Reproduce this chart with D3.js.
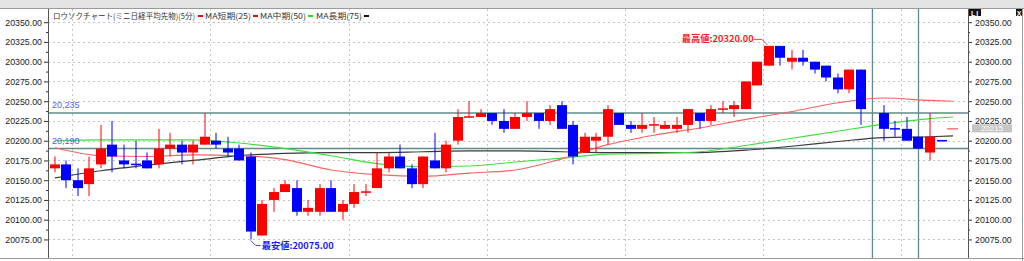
<!DOCTYPE html>
<html>
<head>
<meta charset="utf-8">
<script src="https://cdnjs.cloudflare.com/ajax/libs/d3/7.8.5/d3.min.js"></script>
<style>
body{margin:0;background:#fff;}
svg{display:block;}
</style>
</head>
<body>
<svg id="chart" width="1024" height="261"></svg>
<script>
// 5 min candles, index 71 is an empty slot
var opens  = [20165,20170,20150,20145,20170,20195,20175,20170,20175,20170,
              20190,20195,20185,20195,20200,20190,20190,20180,20080,20125,
              20135,20140,20110,20110,20140,20110,20120,20135,20140,20165,
              20180,20165,20145,20175,20165,20200,20230,20230,20235,20225,
              20215,20230,20235,20225,20245,20220,20185,20200,20205,20235,
              20220,20215,20220,20215,20215,20220,20235,20225,20240,20240,
              20240,20270,20295,20320,20300,20305,20300,20295,20280,20265,
              20290,null,20235,20215,20215,20205,20185,20200];
var highs  = [20180,20175,20165,20180,20220,20225,20195,20200,20185,20215,
              20210,20200,20200,20235,20210,20205,20195,20185,20125,20140,
              20150,20150,20125,20145,20150,20125,20145,20145,20185,20185,
              20195,20170,20180,20210,20200,20240,20250,20240,20235,20240,
              20235,20250,20235,20245,20250,20225,20210,20210,20245,20235,
              20225,20235,20230,20225,20230,20240,20235,20245,20250,20250,
              20275,20300,20320,20320,20315,20315,20300,20295,20285,20290,
              20290,null,20245,20225,20230,20205,20235,20200];
var lows   = [20160,20140,20130,20130,20165,20160,20165,20165,20165,20165,
              20180,20170,20170,20195,20190,20180,20175,20075,20080,20110,
              20135,20105,20105,20105,20110,20100,20115,20130,20140,20160,
              20165,20140,20140,20165,20160,20195,20230,20230,20220,20210,
              20215,20225,20215,20220,20215,20170,20185,20185,20195,20220,
              20210,20210,20210,20215,20210,20210,20215,20220,20235,20230,
              20240,20270,20295,20295,20290,20295,20285,20275,20260,20260,
              20220,null,20200,20205,20200,20190,20175,20200];
var closes = [20170,20150,20140,20165,20190,20180,20170,20170,20165,20190,
              20195,20185,20195,20205,20195,20185,20175,20085,20120,20135,
              20145,20110,20115,20140,20110,20120,20135,20135,20165,20180,
              20165,20145,20180,20165,20195,20230,20230,20235,20225,20215,
              20230,20235,20225,20240,20215,20180,20205,20205,20240,20220,
              20215,20220,20220,20220,20220,20240,20225,20240,20240,20245,
              20275,20300,20320,20305,20305,20300,20290,20280,20265,20290,
              20240,null,20215,20215,20200,20190,20205,20200];
// doji bars (open == close) that are drawn red
var dojiUp = [27, 36, 52, 58];

// moving averages, read at these bar indexes
var maIdx   = [0,4,8,12,16,20,24,28,32,36,40,44,48,52,56,60,64,68,72,76,78];
var maShort = [20191,20181,20180,20182,20181,20176,20163,20157,20155,20159,20163,20177,20195,20207,20216,20227,20237,20248,20254,20251,20250];
var maMid   = [20200,20201,20201,20201,20197,20190,20181,20171,20167,20168,20173,20178,20183,20184,20186,20194,20203,20212,20221,20228,20230];
var maLong  = [20153,20162,20169,20175,20181,20184,20185,20185,20186,20187,20187,20186,20185,20185,20185,20188,20193,20199,20204,20205,20206];

var yTicks = [20075,20100,20125,20150,20175,20200,20225,20250,20275,20300,20325,20350];
var yMinor = [20087.5,20112.5,20137.5,20162.5,20187.5,20212.5,20237.5,20262.5,20287.5,20312.5,20337.5];
var gridBars = [1.5,13.5,25.5,37.5,49.5,61.5,73.5];
var priceLines = [20235, 20190];
var priceLineLabels = ["20,235", "20,190"];
var markBars = [71, 75];
var lowBar = 17, lowValue = 20075, lowText = "最安値:20075.00";
var highBar = 62, highValue = 20320, highText = "最高値:20320.00";
var lastPrice = 20215;

var titleText = "ロウソクチャート(ミニ日経平均先物)(5分)";
var legendNames = ["MA短期(25)", "MA中期(50)", "MA長期(75)"];
var legendColors = ["#ff0000", "#ff0000", "#22dd22", "#111111"];

var svg = d3.select("#chart"),
    pLeft = 48, pRight = 968, pTop = 9, pBottom = 258;

var x = d3.scaleLinear().domain([-0.6, 79.3]).range([pLeft, pRight]);
var y = d3.scaleLinear().domain([20075, 20350]).range([239.45, 22.2]);

var up = "#ff0000", down = "#0000ff";

// top strip and frame
svg.append("rect").attr("x", 0).attr("y", 0).attr("width", 1024).attr("height", 8).attr("fill", "#e4e4e4");
svg.append("line").attr("x1", 0).attr("x2", 1024).attr("y1", 8.5).attr("y2", 8.5).attr("stroke", "#9a9a9a");
svg.append("line").attr("x1", 0).attr("x2", 1024).attr("y1", pBottom + 0.5).attr("y2", pBottom + 0.5).attr("stroke", "#9a9a9a");
svg.append("line").attr("x1", 1022.5).attr("x2", 1022.5).attr("y1", 9).attr("y2", 261).attr("stroke", "#9a9a9a");

svg.append("defs").append("clipPath").attr("id", "plotclip")
  .append("rect").attr("x", pLeft).attr("y", pTop).attr("width", pRight - pLeft).attr("height", pBottom - pTop);

var g = svg.append("g").attr("clip-path", "url(#plotclip)");

// dashed grid
g.selectAll(".hgrid")
  .data(yTicks)
  .enter().append("line")
    .attr("x1", pLeft).attr("x2", pRight)
    .attr("y1", function(d){ return Math.round(y(d)) + 0.5; })
    .attr("y2", function(d){ return Math.round(y(d)) + 0.5; })
    .attr("stroke", "#c4c4c4")
    .attr("stroke-dasharray", "2,3");

g.selectAll(".vgrid")
  .data(gridBars)
  .enter().append("line")
    .attr("x1", function(d){ return Math.round(x(d)) + 0.5; })
    .attr("x2", function(d){ return Math.round(x(d)) + 0.5; })
    .attr("y1", pTop).attr("y2", pBottom)
    .attr("stroke", "#c4c4c4")
    .attr("stroke-dasharray", "2,3");

// marker lines (teal)
g.selectAll(".pline")
  .data(priceLines)
  .enter().append("line")
    .attr("x1", pLeft).attr("x2", pRight)
    .attr("y1", function(d){ return y(d); })
    .attr("y2", function(d){ return y(d); })
    .attr("stroke", "#5e8a8a")
    .attr("stroke-width", 1.5);

g.selectAll(".vmark")
  .data(markBars)
  .enter().append("line")
    .attr("x1", function(d){ return x(d); })
    .attr("x2", function(d){ return x(d); })
    .attr("y1", pTop).attr("y2", pBottom)
    .attr("stroke", "#5e8a8a")
    .attr("stroke-width", 1.3);

// moving averages
function maLine(vals, color, w){
  var pts = maIdx.map(function(d, i){ return [d, vals[i]]; });
  g.append("path")
    .attr("d", d3.line()
      .x(function(d){ return x(d[0]); })
      .y(function(d){ return y(d[1]); })
      .curve(d3.curveMonotoneX)(pts))
    .attr("fill", "none")
    .attr("stroke", color)
    .attr("stroke-width", w);
}
maLine(maLong, "#3a3a3a", 1.2);
maLine(maMid, "#3ce03c", 1.1);
maLine(maShort, "#ff6060", 1.1);

// candles
var bars = [];
for (var i = 0; i < opens.length; i++){
  if (opens[i] == null) continue;
  var isUp = closes[i] > opens[i] || (closes[i] == opens[i] && dojiUp.indexOf(i) != -1);
  bars.push({i: i, o: opens[i], h: highs[i], l: lows[i], c: closes[i], up: isUp});
}

g.selectAll(".wick")
  .data(bars)
  .enter().append("line")
    .attr("x1", function(d){ return Math.round(x(d.i)); })
    .attr("x2", function(d){ return Math.round(x(d.i)); })
    .attr("y1", function(d){ return y(d.h); })
    .attr("y2", function(d){ return y(d.l); })
    .attr("stroke", function(d){ return d.up ? up : down; })
    .attr("stroke-width", 1);

g.selectAll(".body")
  .data(bars)
  .enter().append("rect")
    .attr("x", function(d){ return Math.round(x(d.i)) - 5; })
    .attr("width", 10)
    .attr("y", function(d){ return y(Math.max(d.o, d.c)) - (d.o == d.c ? 0.75 : 0); })
    .attr("height", function(d){ return Math.max(1.5, Math.abs(y(d.o) - y(d.c))); })
    .attr("fill", function(d){ return d.up ? up : down; });

// last price tick
g.append("line")
  .attr("x1", x(77) + 5.5).attr("x2", x(77) + 16.5)
  .attr("y1", y(lastPrice)).attr("y2", y(lastPrice))
  .attr("stroke", "#ff5050").attr("stroke-width", 1.2);

// price line labels
g.selectAll(".plabel")
  .data(priceLines)
  .enter().append("text")
    .attr("x", pLeft + 4)
    .attr("y", function(d){ return y(d) - 5; })
    .attr("font-family", "Liberation Sans, Arial, sans-serif")
    .attr("font-size", "9px")
    .attr("fill", "#5a5aff")
    .text(function(d, i){ return priceLineLabels[i]; });

// low / high annotations
var lx = x(lowBar), ly = y(lowValue);
g.append("path")
  .attr("d", "M" + lx + "," + (ly + 1) + " L" + (lx + 5) + "," + (ly + 6) + " L" + (lx + 10) + "," + (ly + 6))
  .attr("fill", "none").attr("stroke", "#2a2aff").attr("stroke-width", 0.9);
g.append("text")
  .attr("x", lx + 11).attr("y", ly + 9.5)
  .attr("font-family", "Noto Sans CJK JP, sans-serif")
  .attr("font-size", "9px").attr("font-weight", "bold")
  .attr("textLength", 72).attr("lengthAdjust", "spacingAndGlyphs")
  .attr("fill", "#1a1aff")
  .text(lowText);

var hx = x(highBar), hy = y(highValue);
g.append("path")
  .attr("d", "M" + (hx - 15) + "," + (hy - 6.5) + " L" + (hx - 7) + "," + (hy - 6.5) + " L" + (hx - 1.5) + "," + (hy - 1))
  .attr("fill", "none").attr("stroke", "#ff2a2a").attr("stroke-width", 0.9);
g.append("text")
  .attr("x", hx - 87).attr("y", hy - 3.5)
  .attr("font-family", "Noto Sans CJK JP, sans-serif")
  .attr("font-size", "9px").attr("font-weight", "bold")
  .attr("textLength", 72).attr("lengthAdjust", "spacingAndGlyphs")
  .attr("fill", "#ff1a1a")
  .text(highText);

// header legend
var hdrFont = "Noto Sans CJK JP, sans-serif";
var hdr = svg.append("g").attr("font-family", hdrFont).attr("font-size", "8px").attr("fill", "#333");
hdr.append("text").attr("x", 53).attr("y", 18.5).attr("textLength", 142).attr("lengthAdjust", "spacingAndGlyphs").text(titleText);
var nameX = [205, 260, 316];
var dashX = [198, 253, 308, 364];
legendNames.forEach(function(n, i){
  hdr.append("text").attr("x", nameX[i]).attr("y", 18.5).attr("textLength", 46).attr("lengthAdjust", "spacingAndGlyphs").text(n);
});
legendColors.forEach(function(c, i){
  svg.append("rect").attr("x", dashX[i]).attr("y", 15).attr("width", 5).attr("height", 2).attr("fill", c);
});

// axes
function styleAxis(sel){
  sel.select(".domain").remove();
  sel.selectAll("line").attr("stroke", "#333");
  sel.selectAll("text")
    .attr("font-family", "Liberation Sans, Arial, sans-serif")
    .attr("font-size", "8.8px")
    .attr("fill", "#222");
}
var fmt = d3.format(".2f");

svg.append("g").attr("transform", "translate(" + pLeft + ",0)")
  .call(d3.axisLeft(y).tickValues(yTicks).tickSize(4).tickPadding(2).tickFormat(fmt))
  .call(styleAxis);
svg.append("g").attr("transform", "translate(" + pLeft + ",0)")
  .call(d3.axisLeft(y).tickValues(yMinor).tickSize(2).tickFormat(""))
  .call(styleAxis);
svg.append("g").attr("transform", "translate(" + pRight + ",0)")
  .call(d3.axisRight(y).tickValues(yTicks).tickSize(4).tickPadding(3).tickFormat(fmt))
  .call(styleAxis);
svg.append("g").attr("transform", "translate(" + pRight + ",0)")
  .call(d3.axisRight(y).tickValues(yMinor).tickSize(2).tickFormat(""))
  .call(styleAxis);

svg.append("line").attr("x1", pLeft + 0.5).attr("x2", pLeft + 0.5).attr("y1", pTop).attr("y2", pBottom).attr("stroke", "#555");
svg.append("line").attr("x1", pRight + 0.5).attr("x2", pRight + 0.5).attr("y1", pTop).attr("y2", pBottom).attr("stroke", "#555");

// last price box on right axis
svg.append("rect").attr("x", 972).attr("y", y(lastPrice) - 4.5).attr("width", 40).attr("height", 8).attr("fill", "#c4c4c4");
svg.append("text").attr("x", 992).attr("y", y(lastPrice) + 2.5)
  .attr("text-anchor", "middle")
  .attr("font-family", "Liberation Sans, Arial, sans-serif")
  .attr("font-size", "8px").attr("fill", "#fff")
  .text(lastPrice);

// window buttons
svg.append("rect").attr("x", 969).attr("y", 9).attr("width", 12).attr("height", 7).attr("fill", "#111");
svg.append("text").attr("x", 975).attr("y", 15.5).attr("text-anchor", "middle")
  .attr("font-family", "Liberation Sans, Arial, sans-serif").attr("font-size", "7px").attr("font-weight", "bold")
  .attr("fill", "#fff").attr("letter-spacing", "1px").text("LI");
svg.append("rect").attr("x", 1016).attr("y", 9).attr("width", 6).attr("height", 7).attr("fill", "#111");
svg.append("text").attr("x", 1019).attr("y", 15.5).attr("text-anchor", "middle")
  .attr("font-family", "Liberation Sans, Arial, sans-serif").attr("font-size", "7px").attr("font-weight", "bold")
  .attr("fill", "#fff").text("X");
</script>
</body>
</html>
